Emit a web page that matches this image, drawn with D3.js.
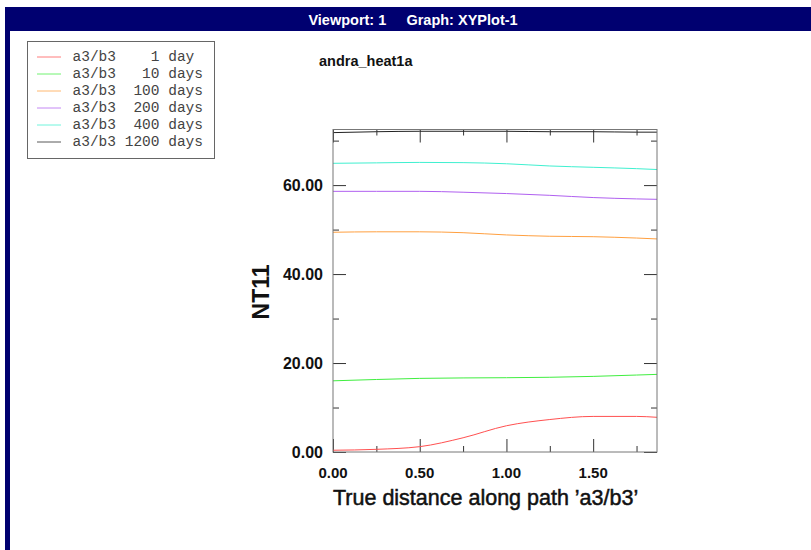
<!DOCTYPE html>
<html>
<head>
<meta charset="utf-8">
<script src="https://cdn.jsdelivr.net/npm/d3@7"></script>
<style>
  html, body { margin: 0; padding: 0; background: #fff; }
  svg { display: block; }
</style>
</head>
<body>
<div id="div_id_main"></div>
<script>

// ---- data ----
var vxDistance = [0, 0.25, 0.5, 0.75, 1.0, 1.25, 1.5, 1.75, 1.868];

var vs1Day    = [0.4, 0.6, 1.2, 3.2, 5.9, 7.3, 8.0, 8.0, 7.8];
var vs10Days  = [16.0, 16.3, 16.55, 16.65, 16.7, 16.8, 17.0, 17.3, 17.45];
var vs100Days = [49.4, 49.5, 49.5, 49.3, 48.8, 48.5, 48.4, 48.1, 47.9];
var vs200Days = [58.6, 58.6, 58.6, 58.4, 58.1, 57.7, 57.2, 56.9, 56.8];
var vs400Days = [64.9, 65.0, 65.1, 65.05, 64.8, 64.3, 64.0, 63.7, 63.5];
var vs1200Days = [71.8, 72.0, 72.1, 72.1, 72.1, 72.0, 72.0, 71.9, 71.9];

var vsLegendNames = ["a3/b3    1 day", "a3/b3   10 days", "a3/b3  100 days",
                     "a3/b3  200 days", "a3/b3  400 days", "a3/b3 1200 days"];
var vSeriesColors = ["#ff5050", "#40ee40", "#ffa040", "#b060f0", "#40f0d0", "#222222"];

var vYMajor = [0, 20, 40, 60];
var vYMinor = [10, 30, 50, 70];
var vXMajor = [0, 0.5, 1.0, 1.5];
var vXMinor = [0.25, 0.75, 1.25, 1.75];

var X_MAX = 1.868;
var Y_MAX = 72.5;

// ---- layout ----
var W = 811, H = 550;
var PLOT_LEFT = 333, PLOT_RIGHT = 657, PLOT_TOP = 129.5, PLOT_BOTTOM = 452;
var TICK_MAJOR = 13, TICK_MINOR = 6;

var vSeries = [vs1Day, vs10Days, vs100Days, vs200Days, vs400Days, vs1200Days];

var svgMain = d3.select("#div_id_main")
                .append("svg")
                  .attr("width", W)
                  .attr("height", H);

// frame of the viewport
svgMain.append("rect")
          .attr("x", 0).attr("y", 0).attr("width", W).attr("height", H)
          .attr("fill", "#fff");

svgMain.append("rect")
          .attr("x", 5).attr("y", 7).attr("width", W - 5).attr("height", 24)
          .attr("fill", "#000070");

svgMain.append("rect")
          .attr("x", 5).attr("y", 7).attr("width", 5).attr("height", H - 7)
          .attr("fill", "#000070");

svgMain.append("text")
          .attr("x", 413).attr("y", 24.5)
          .attr("text-anchor", "middle")
          .attr("xml:space", "preserve")
          .style("white-space", "pre")
          .attr("font-family", "Liberation Sans, Arial, sans-serif")
          .attr("font-weight", "bold")
          .attr("font-size", "14.5px")
          .attr("fill", "#fff")
          .text("Viewport: 1     Graph: XYPlot-1");

// title
svgMain.append("text")
          .attr("x", 319).attr("y", 66)
          .attr("font-family", "Liberation Sans, Arial, sans-serif")
          .attr("font-weight", "bold")
          .attr("font-size", "14.5px")
          .attr("fill", "#111")
          .text("andra_heat1a");

// ---- scales ----
var fScale_X = d3.scaleLinear().domain([0, X_MAX]).range([PLOT_LEFT, PLOT_RIGHT]);
var fScale_Y = d3.scaleLinear().domain([0, Y_MAX]).range([PLOT_BOTTOM, PLOT_TOP]);

var gAxes = svgMain.append("g");

function funcDrawAxis(axis, nX, nY, vTicks, nSize) {

    let g = gAxes.append("g")
                  .attr("transform", "translate(" + nX + "," + nY + ")")
                  .call(axis.tickValues(vTicks).tickSizeInner(nSize).tickSizeOuter(0).tickFormat(""));

    g.select(".domain").remove();
    g.selectAll("line").attr("stroke", "#333").attr("stroke-width", 1);
}

// ticks pointing inward on all four sides
funcDrawAxis(d3.axisLeft(fScale_Y), PLOT_LEFT, 0, vYMajor, -TICK_MAJOR);
funcDrawAxis(d3.axisLeft(fScale_Y), PLOT_LEFT, 0, vYMinor, -TICK_MINOR);
funcDrawAxis(d3.axisRight(fScale_Y), PLOT_RIGHT, 0, vYMajor, -TICK_MAJOR);
funcDrawAxis(d3.axisRight(fScale_Y), PLOT_RIGHT, 0, vYMinor, -TICK_MINOR);
funcDrawAxis(d3.axisBottom(fScale_X), 0, PLOT_BOTTOM, vXMajor, -TICK_MAJOR);
funcDrawAxis(d3.axisBottom(fScale_X), 0, PLOT_BOTTOM, vXMinor, -TICK_MINOR);
funcDrawAxis(d3.axisTop(fScale_X), 0, PLOT_TOP, vXMajor, -TICK_MAJOR);
funcDrawAxis(d3.axisTop(fScale_X), 0, PLOT_TOP, vXMinor, -TICK_MINOR);

// tick labels
svgMain.selectAll("text.text_class_ylabel")
          .data(vYMajor)
          .enter()
          .append("text")
            .attr("class", "text_class_ylabel")
            .attr("x", 323)
            .attr("y", function (d) { return fScale_Y(d) + 6; })
            .attr("text-anchor", "end")
            .attr("font-family", "Liberation Sans, Arial, sans-serif")
            .attr("font-weight", "bold")
            .attr("font-size", "16px")
            .attr("fill", "#111")
            .text(function (d) { return d3.format(".2f")(d); });

svgMain.selectAll("text.text_class_xlabel")
          .data(vXMajor)
          .enter()
          .append("text")
            .attr("class", "text_class_xlabel")
            .attr("x", function (d) { return fScale_X(d); })
            .attr("y", 478)
            .attr("text-anchor", "middle")
            .attr("font-family", "Liberation Sans, Arial, sans-serif")
            .attr("font-weight", "bold")
            .attr("font-size", "15px")
            .attr("fill", "#111")
            .text(function (d) { return d3.format(".2f")(d); });

// axis titles
svgMain.append("text")
          .attr("transform", "translate(269,292) rotate(-90)")
          .attr("text-anchor", "middle")
          .attr("font-family", "Liberation Sans, Arial, sans-serif")
          .attr("font-weight", "bold")
          .attr("font-size", "23px")
          .attr("fill", "#111")
          .text("NT11");

svgMain.append("text")
          .attr("x", 333).attr("y", 505)
          .attr("font-family", "Liberation Sans, Arial, sans-serif")
          .attr("font-size", "21.5px")
          .attr("stroke", "#111")
          .attr("stroke-width", 0.5)
          .attr("fill", "#111")
          .text("True distance along path \u2019a3/b3\u2019");

// ---- curves ----
var fLine = d3.line()
                .x(function (d, i) { return fScale_X(vxDistance[i]); })
                .y(function (d) { return fScale_Y(d); })
                .curve(d3.curveMonotoneX);

var gCurves = svgMain.append("g");

gCurves.selectAll("path")
          .data(vSeries)
          .enter()
          .append("path")
            .attr("d", fLine)
            .attr("fill", "none")
            .attr("stroke", function (d, i) { return vSeriesColors[i]; })
            .attr("stroke-width", 1);

// plot frame
svgMain.append("rect")
          .attr("x", PLOT_LEFT).attr("y", PLOT_TOP)
          .attr("width", PLOT_RIGHT - PLOT_LEFT)
          .attr("height", PLOT_BOTTOM - PLOT_TOP)
          .attr("fill", "none")
          .attr("stroke", "#777")
          .attr("stroke-width", 1);

// ---- legend ----
var gLegend = svgMain.append("g");

gLegend.append("rect")
          .attr("x", 27.5).attr("y", 41.5).attr("width", 187).attr("height", 117)
          .attr("fill", "#fff")
          .attr("stroke", "#666")
          .attr("stroke-width", 1);

vsLegendNames.forEach(function (sName, i) {

    let nY = 57 + i * 17;

    gLegend.append("line")
              .attr("x1", 37).attr("x2", 61)
              .attr("y1", nY).attr("y2", nY)
              .attr("stroke", vSeriesColors[i])
              .attr("stroke-opacity", 0.75)
              .attr("stroke-width", 1);

    gLegend.append("text")
              .attr("x", 72.5).attr("y", nY + 4)
              .attr("xml:space", "preserve")
              .style("white-space", "pre")
              .attr("font-family", "Liberation Mono, Courier New, monospace")
              .attr("font-size", "14.5px")
              .attr("fill", "#444")
              .text(sName);
});

</script>
</body>
</html>
